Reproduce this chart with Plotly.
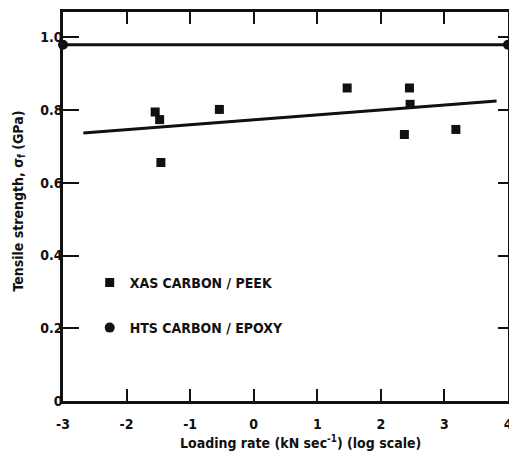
import plotly.graph_objects as go

# Data
peek_x = [-1.55, -1.48, -1.46, -0.54, 1.47, 2.45, 2.46, 2.37, 3.18]
peek_y = [0.795, 0.774, 0.656, 0.802, 0.861, 0.861, 0.816, 0.733, 0.747]
fit_x = [-2.68, 3.82]
fit_y = [0.737, 0.825]
epoxy_x = [-3, 4]
epoxy_y = [0.98, 0.98]

x_ticks = [-3, -2, -1, 0, 1, 2, 3, 4]
x_ticktext = ["-3", "-2", "-1", "0", "1", "2", "3", "4"]
y_ticks = [0, 0.2, 0.4, 0.6, 0.8, 1.0]
y_ticktext = ["0", "0.2", "0.4", "0.6", "0.8", "1.0"]

FONT = "DejaVu Sans Condensed"
INK = "#111111"

fig = go.Figure()
fig.add_trace(go.Scatter(x=epoxy_x, y=epoxy_y, mode="lines", line=dict(color=INK, width=3),
                         showlegend=False, hoverinfo="skip"))
fig.add_trace(go.Scatter(x=fit_x, y=fit_y, mode="lines", line=dict(color=INK, width=3),
                         showlegend=False, hoverinfo="skip"))
fig.add_trace(go.Scatter(x=peek_x, y=peek_y, mode="markers", name="XAS CARBON / PEEK",
                         legendgroup="a",
                         marker=dict(symbol="square", size=9, color=INK)))
fig.add_trace(go.Scatter(x=epoxy_x, y=epoxy_y, mode="markers", name="HTS CARBON / EPOXY",
                         legendgroup="b", cliponaxis=False,
                         marker=dict(symbol="circle", size=10, color=INK)))

tfont = dict(family=FONT, size=14, color=INK, weight="bold")
axis_common = dict(showgrid=False, zeroline=False, showline=True, linecolor=INK, linewidth=2.5,
                   ticks="inside", tickcolor=INK, tickwidth=2, tickfont=tfont, automargin=False)

fig.update_layout(
    width=509, height=456,
    margin=dict(l=63, r=1, t=12, b=55, autoexpand=False),
    paper_bgcolor="white", plot_bgcolor="white",
    showlegend=True,
    legend=dict(x=0.06, y=0.345, xanchor="left", yanchor="top", bgcolor="rgba(0,0,0,0)",
                font=tfont, tracegroupgap=24),
    xaxis=dict(range=[-3, 4], tickvals=x_ticks, ticktext=x_ticktext, ticklen=12,
               ticklabelstandoff=8, ticklabeloverflow="allow", **axis_common),
    yaxis=dict(range=[0, 1.07], tickvals=y_ticks, ticktext=y_ticktext, ticklen=16,
               ticklabelstandoff=-5, **axis_common),
    xaxis2=dict(range=[-3, 4], overlaying="x", side="top", tickvals=[-2, -1, 0, 1, 2, 3],
                showticklabels=False, ticklen=12, **axis_common),
    yaxis2=dict(range=[0, 1.07], overlaying="y", side="right", tickvals=[0.2, 0.4, 0.6, 0.8, 1.0],
                showticklabels=False, ticklen=10, **axis_common),
    annotations=[
        dict(text="Tensile strength, σ<sub>f</sub> (GPa)", xref="paper", yref="paper",
             x=0, y=0.5, xanchor="center", yanchor="middle", textangle=-90, showarrow=False,
             xshift=-45, yshift=5, font=tfont),
        dict(text="Loading rate (kN sec<sup>-1</sup>) (log scale)", xref="paper", yref="paper",
             x=0.5, y=0, xanchor="center", yanchor="middle", showarrow=False,
             xshift=15, yshift=-41, font=tfont),
    ],
)
fig.add_trace(go.Scatter(x=[None], y=[None], xaxis="x2", yaxis="y2", showlegend=False))

fig.write_html("out.html", config={"displayModeBar": False},
               post_script="document.body.style.margin='0';document.body.style.overflow='hidden';")
